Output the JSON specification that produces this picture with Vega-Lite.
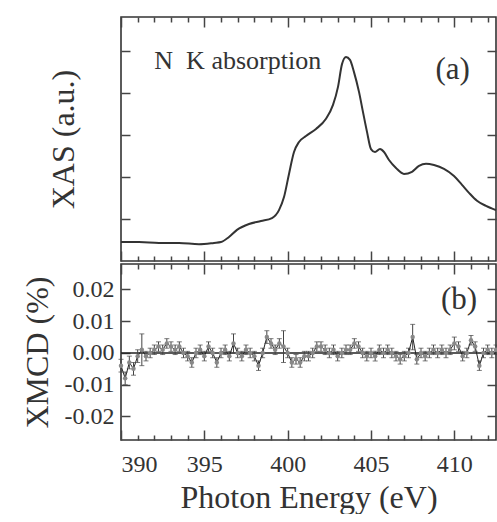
{
  "$schema": "https://vega.github.io/schema/vega-lite/v6.json",
  "padding": {"left": 20, "top": 15, "right": 0, "bottom": 0},
  "spacing": 3,
  "bounds": "flush",
  "config": {
    "font": "Liberation Serif",
    "view": {"stroke": "#333", "strokeWidth": 1.6},
    "axis": {
      "domain": false, "grid": false, "zindex": 1,
      "labelFont": "Liberation Serif", "labelFontSize": 24, "labelColor": "#333",
      "titleFont": "Liberation Serif", "titleFontSize": 32, "titleFontWeight": "normal", "titleColor": "#333",
      "tickColor": "#444", "tickWidth": 1.5
    }
  },
  "datasets": {
    "xas": [
      {"E": 390.0, "A": 0.45}, {"E": 391.08, "A": 0.45}, {"E": 392.28, "A": 0.43}, {"E": 393.48, "A": 0.43},
      {"E": 394.68, "A": 0.40}, {"E": 395.58, "A": 0.43}, {"E": 396.0, "A": 0.45}, {"E": 396.48, "A": 0.57},
      {"E": 396.96, "A": 0.74}, {"E": 397.68, "A": 0.88}, {"E": 398.4, "A": 0.95}, {"E": 399.06, "A": 1.02},
      {"E": 399.48, "A": 1.21}, {"E": 399.78, "A": 1.52}, {"E": 400.08, "A": 2.07}, {"E": 400.38, "A": 2.59},
      {"E": 400.68, "A": 2.83}, {"E": 401.1, "A": 2.97}, {"E": 401.7, "A": 3.14}, {"E": 402.3, "A": 3.38},
      {"E": 402.72, "A": 3.71}, {"E": 403.02, "A": 4.14}, {"E": 403.26, "A": 4.68}, {"E": 403.5, "A": 4.85},
      {"E": 403.74, "A": 4.78}, {"E": 403.98, "A": 4.49}, {"E": 404.28, "A": 4.02}, {"E": 404.52, "A": 3.54},
      {"E": 404.76, "A": 3.07}, {"E": 405.0, "A": 2.66}, {"E": 405.24, "A": 2.59}, {"E": 405.54, "A": 2.66},
      {"E": 405.78, "A": 2.59}, {"E": 406.08, "A": 2.40}, {"E": 406.5, "A": 2.21}, {"E": 406.98, "A": 2.07},
      {"E": 407.46, "A": 2.12}, {"E": 407.88, "A": 2.26}, {"E": 408.3, "A": 2.31}, {"E": 408.78, "A": 2.28},
      {"E": 409.38, "A": 2.19}, {"E": 409.98, "A": 2.02}, {"E": 410.46, "A": 1.81}, {"E": 410.88, "A": 1.62},
      {"E": 411.36, "A": 1.43}, {"E": 411.9, "A": 1.31}, {"E": 412.5, "A": 1.21}
    ],
    "xmcd": [
      {"E": 390.00, "v": -0.004, "err": 0.002}, {"E": 390.25, "v": -0.008, "err": 0.002}, {"E": 390.50, "v": -0.003, "err": 0.002},
      {"E": 390.75, "v": -0.005, "err": 0.002}, {"E": 391.00, "v": -0.001, "err": 0.002}, {"E": 391.25, "v": 0.001, "err": 0.005},
      {"E": 391.50, "v": -0.001, "err": 0.0015}, {"E": 391.75, "v": 0.000, "err": 0.0015}, {"E": 392.00, "v": 0.001, "err": 0.0015},
      {"E": 392.25, "v": 0.002, "err": 0.0015}, {"E": 392.50, "v": 0.001, "err": 0.0015}, {"E": 392.75, "v": 0.003, "err": 0.0015},
      {"E": 393.00, "v": 0.002, "err": 0.0015}, {"E": 393.25, "v": 0.001, "err": 0.0015}, {"E": 393.50, "v": 0.002, "err": 0.0015},
      {"E": 393.75, "v": 0.000, "err": 0.0015}, {"E": 394.00, "v": -0.001, "err": 0.0015}, {"E": 394.25, "v": -0.003, "err": 0.0015},
      {"E": 394.50, "v": 0.000, "err": 0.0015}, {"E": 394.75, "v": 0.001, "err": 0.0015}, {"E": 395.00, "v": -0.001, "err": 0.0015},
      {"E": 395.25, "v": 0.002, "err": 0.0015}, {"E": 395.50, "v": 0.000, "err": 0.0015}, {"E": 395.75, "v": -0.003, "err": 0.0015},
      {"E": 396.00, "v": 0.000, "err": 0.0015}, {"E": 396.25, "v": 0.001, "err": 0.0015}, {"E": 396.50, "v": -0.001, "err": 0.0015},
      {"E": 396.75, "v": 0.003, "err": 0.003}, {"E": 397.00, "v": 0.000, "err": 0.0015}, {"E": 397.25, "v": -0.001, "err": 0.0015},
      {"E": 397.50, "v": 0.001, "err": 0.0015}, {"E": 397.75, "v": 0.000, "err": 0.0015}, {"E": 398.00, "v": -0.001, "err": 0.0015},
      {"E": 398.25, "v": -0.004, "err": 0.0015}, {"E": 398.50, "v": 0.000, "err": 0.0015}, {"E": 398.75, "v": 0.005, "err": 0.002},
      {"E": 399.00, "v": 0.003, "err": 0.0015}, {"E": 399.25, "v": 0.001, "err": 0.0015}, {"E": 399.50, "v": 0.003, "err": 0.0015},
      {"E": 399.75, "v": 0.002, "err": 0.005}, {"E": 400.00, "v": 0.000, "err": 0.0015}, {"E": 400.25, "v": -0.003, "err": 0.0015},
      {"E": 400.50, "v": -0.002, "err": 0.0015}, {"E": 400.75, "v": -0.003, "err": 0.0015}, {"E": 401.00, "v": -0.001, "err": 0.0015},
      {"E": 401.25, "v": -0.001, "err": 0.0015}, {"E": 401.50, "v": 0.000, "err": 0.0015}, {"E": 401.75, "v": 0.002, "err": 0.0015},
      {"E": 402.00, "v": 0.002, "err": 0.0015}, {"E": 402.25, "v": 0.001, "err": 0.0015}, {"E": 402.50, "v": 0.000, "err": 0.0015},
      {"E": 402.75, "v": 0.001, "err": 0.0015}, {"E": 403.00, "v": -0.001, "err": 0.0015}, {"E": 403.25, "v": 0.000, "err": 0.0015},
      {"E": 403.50, "v": 0.001, "err": 0.0015}, {"E": 403.75, "v": 0.001, "err": 0.0015}, {"E": 404.00, "v": 0.003, "err": 0.0015},
      {"E": 404.25, "v": 0.002, "err": 0.0015}, {"E": 404.50, "v": 0.000, "err": 0.0015}, {"E": 404.75, "v": -0.001, "err": 0.0015},
      {"E": 405.00, "v": 0.000, "err": 0.0015}, {"E": 405.25, "v": -0.001, "err": 0.0015}, {"E": 405.50, "v": 0.001, "err": 0.0015},
      {"E": 405.75, "v": 0.000, "err": 0.0015}, {"E": 406.00, "v": 0.001, "err": 0.0015}, {"E": 406.25, "v": 0.000, "err": 0.0015},
      {"E": 406.50, "v": -0.001, "err": 0.0015}, {"E": 406.75, "v": -0.002, "err": 0.0015}, {"E": 407.00, "v": -0.001, "err": 0.0015},
      {"E": 407.25, "v": 0.000, "err": 0.0015}, {"E": 407.50, "v": 0.005, "err": 0.004}, {"E": 407.75, "v": -0.002, "err": 0.0015},
      {"E": 408.00, "v": 0.000, "err": 0.0015}, {"E": 408.25, "v": -0.001, "err": 0.0015}, {"E": 408.50, "v": 0.000, "err": 0.0015},
      {"E": 408.75, "v": 0.001, "err": 0.0015}, {"E": 409.00, "v": 0.000, "err": 0.0015}, {"E": 409.25, "v": 0.001, "err": 0.0015},
      {"E": 409.50, "v": 0.000, "err": 0.0015}, {"E": 409.75, "v": 0.001, "err": 0.0015}, {"E": 410.00, "v": 0.003, "err": 0.002},
      {"E": 410.25, "v": 0.002, "err": 0.0015}, {"E": 410.50, "v": -0.001, "err": 0.0015}, {"E": 410.75, "v": 0.000, "err": 0.0015},
      {"E": 411.00, "v": 0.004, "err": 0.0015}, {"E": 411.25, "v": 0.002, "err": 0.0015}, {"E": 411.50, "v": -0.004, "err": 0.0015},
      {"E": 411.75, "v": 0.000, "err": 0.0015}, {"E": 412.00, "v": 0.001, "err": 0.0015}, {"E": 412.25, "v": 0.000, "err": 0.0015},
      {"E": 412.50, "v": 0.001, "err": 0.0015}
    ]
  },
  "vconcat": [
    {
      "width": 375, "height": 244,
      "resolve": {"scale": {"x": "independent", "y": "independent"}, "axis": {"x": "independent", "y": "independent"}},
      "layer": [
        {
          "data": {"name": "xas"},
          "mark": {"type": "line", "color": "#333", "strokeWidth": 2, "interpolate": "monotone"},
          "encoding": {
            "x": {"field": "E", "type": "quantitative", "scale": {"domain": [390, 412.5], "nice": false, "zero": false},
              "axis": {"orient": "bottom", "values": [390, 395, 400, 405, 410], "labels": false, "title": null, "tickSize": -10}},
            "y": {"field": "A", "type": "quantitative", "scale": {"domain": [0, 5.8], "nice": false, "zero": false},
              "axis": {"orient": "left", "values": [1,2,3,4,5], "labels": false, "tickSize": -9, "title": "XAS (a.u.)", "titlePadding": 40}}
          }
        },
        {
          "data": {"values": [{}]},
          "mark": {"type": "text", "text": "N\u00a0\u00a0K absorption", "align": "left", "baseline": "alphabetic", "fontSize": 26, "color": "#333", "font": "Liberation Serif"},
          "encoding": {
            "x": {"datum": 392.0, "type": "quantitative", "scale": {"domain": [390, 412.5], "nice": false, "zero": false},
              "axis": {"orient": "bottom", "values": [391,392,393,394,396,397,398,399,401,402,403,404,406,407,408,409,411,412],
                "labels": false, "title": null, "tickSize": 5, "offset": -5}},
            "y": {"datum": 4.56, "type": "quantitative", "scale": {"domain": [0, 5.8], "nice": false, "zero": false},
              "axis": {"orient": "right", "values": [1,2,3,4,5], "labels": false, "tickSize": 9, "offset": -9, "title": null}}
          }
        },
        {
          "data": {"values": [{}]},
          "mark": {"type": "text", "text": "(a)", "align": "center", "baseline": "alphabetic", "fontSize": 31, "color": "#333", "font": "Liberation Serif"},
          "encoding": {
            "x": {"datum": 409.9, "type": "quantitative", "scale": {"domain": [390, 412.5], "nice": false, "zero": false},
              "axis": {"orient": "top", "values": [390, 395, 400, 405, 410], "labels": false, "title": null, "tickSize": 10, "offset": -10}},
            "y": {"datum": 4.33, "type": "quantitative", "scale": {"domain": [0, 5.8], "nice": false, "zero": false}, "axis": null}
          }
        },
        {
          "data": {"values": [{}]},
          "mark": {"type": "text", "text": " ", "fontSize": 1},
          "encoding": {
            "x": {"datum": 400, "type": "quantitative", "scale": {"domain": [390, 412.5], "nice": false, "zero": false},
              "axis": {"orient": "top", "values": [391,392,393,394,396,397,398,399,401,402,403,404,406,407,408,409,411,412],
                "labels": false, "title": null, "tickSize": 5, "offset": -5}},
            "y": {"datum": 1, "type": "quantitative", "scale": {"domain": [0, 5.8], "nice": false, "zero": false}, "axis": null}
          }
        }
      ]
    },
    {
      "width": 375, "height": 176,
      "resolve": {"scale": {"x": "independent", "y": "independent"}, "axis": {"x": "independent", "y": "independent"}},
      "layer": [
        {
          "data": {"name": "xmcd"},
          "mark": {"type": "line", "color": "#222", "strokeWidth": 1},
          "encoding": {
            "x": {"field": "E", "type": "quantitative", "scale": {"domain": [390, 412.5], "nice": false, "zero": false},
              "axis": {"orient": "bottom", "values": [390, 395, 400, 405, 410], "labelPadding": 22, "title": "Photon Energy (eV)", "titlePadding": 6, "tickSize": -10}},
            "y": {"field": "v", "type": "quantitative", "scale": {"domain": [-0.0274, 0.028], "nice": false, "zero": false},
              "axis": {"orient": "left", "values": [-0.02, -0.01, 0, 0.01, 0.02], "format": ".2f", "labelExpr": "replace(datum.label, '\u2212', '-')",
                "tickSize": -9, "labelPadding": 16, "title": "XMCD (%)", "titlePadding": 10}}
          }
        },
        {
          "data": {"values": [{}]},
          "mark": {"type": "rule", "color": "#222", "strokeWidth": 1.5},
          "encoding": {
            "y": {"datum": 0, "type": "quantitative", "scale": {"domain": [-0.0274, 0.028], "nice": false, "zero": false}, "axis": null}
          }
        },
        {
          "data": {"name": "xmcd"},
          "mark": {"type": "errorbar", "color": "#444", "ticks": {"size": 5}},
          "encoding": {
            "x": {"field": "E", "type": "quantitative", "scale": {"domain": [390, 412.5], "nice": false, "zero": false}, "axis": null},
            "y": {"field": "v", "type": "quantitative", "scale": {"domain": [-0.0274, 0.028], "nice": false, "zero": false}, "axis": null},
            "yError": {"field": "err"}
          }
        },
        {
          "data": {"name": "xmcd"},
          "mark": {"type": "point", "filled": true, "color": "#888", "size": 20, "opacity": 1},
          "encoding": {
            "x": {"field": "E", "type": "quantitative", "scale": {"domain": [390, 412.5], "nice": false, "zero": false},
              "axis": {"orient": "bottom", "values": [391,392,393,394,396,397,398,399,401,402,403,404,406,407,408,409,411,412],
                "labels": false, "title": null, "tickSize": 5, "offset": -5}},
            "y": {"field": "v", "type": "quantitative", "scale": {"domain": [-0.0274, 0.028], "nice": false, "zero": false},
              "axis": {"orient": "right", "values": [-0.02, -0.01, 0, 0.01, 0.02], "labels": false, "tickSize": 9, "offset": -9, "title": null}}
          }
        },
        {
          "data": {"values": [{}]},
          "mark": {"type": "text", "text": "(b)", "align": "center", "baseline": "alphabetic", "fontSize": 31, "color": "#333", "font": "Liberation Serif"},
          "encoding": {
            "x": {"datum": 410.28, "type": "quantitative", "scale": {"domain": [390, 412.5], "nice": false, "zero": false},
              "axis": {"orient": "top", "values": [390, 395, 400, 405, 410], "labels": false, "title": null, "tickSize": 10, "offset": -10}},
            "y": {"datum": 0.0139, "type": "quantitative", "scale": {"domain": [-0.0274, 0.028], "nice": false, "zero": false}, "axis": null}
          }
        },
        {
          "data": {"values": [{}]},
          "mark": {"type": "text", "text": " ", "fontSize": 1},
          "encoding": {
            "x": {"datum": 400, "type": "quantitative", "scale": {"domain": [390, 412.5], "nice": false, "zero": false},
              "axis": {"orient": "top", "values": [391,392,393,394,396,397,398,399,401,402,403,404,406,407,408,409,411,412],
                "labels": false, "title": null, "tickSize": 5, "offset": -5}},
            "y": {"datum": 0, "type": "quantitative", "scale": {"domain": [-0.0274, 0.028], "nice": false, "zero": false}, "axis": null}
          }
        }
      ]
    }
  ]
}
